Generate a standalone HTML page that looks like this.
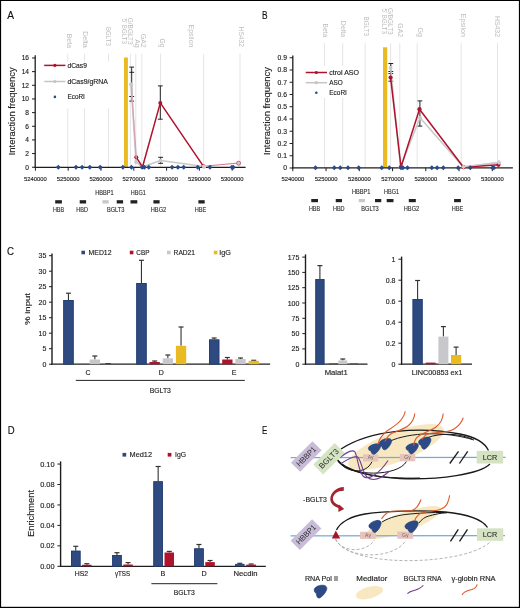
<!DOCTYPE html>
<html><head><meta charset="utf-8"><style>
html,body{margin:0;padding:0;background:#fff;overflow:hidden;}
svg{display:block;font-family:"Liberation Sans", sans-serif;will-change:transform;}
</style></head><body>
<svg width="520" height="608" viewBox="0 0 520 608">
<rect x="0" y="0" width="520" height="608" fill="#fff"/>
<text x="7.30" y="19.40" font-size="11" fill="#111" stroke="#111" stroke-width="0.14" textLength="6.8" lengthAdjust="spacingAndGlyphs">A</text>
<text transform="translate(67.00,48.00) rotate(90)" font-size="7.1" fill="#bdbdbd" text-anchor="end" textLength="14.3" lengthAdjust="spacingAndGlyphs">Beta</text>
<text transform="translate(83.40,47.80) rotate(90)" font-size="7.1" fill="#bdbdbd" text-anchor="end" textLength="16.6" lengthAdjust="spacingAndGlyphs">Delta</text>
<text transform="translate(106.00,45.80) rotate(90)" font-size="7.1" fill="#bdbdbd" text-anchor="end" textLength="18.8" lengthAdjust="spacingAndGlyphs">BGLT3</text>
<text transform="translate(128.20,44.60) rotate(90)" font-size="7.1" fill="#bdbdbd" text-anchor="end" textLength="26.9" lengthAdjust="spacingAndGlyphs">G/BGLT3</text>
<text transform="translate(121.50,43.80) rotate(90)" font-size="7.1" fill="#bdbdbd" text-anchor="end" textLength="25.3" lengthAdjust="spacingAndGlyphs">5' BGLT3</text>
<text transform="translate(140.60,47.70) rotate(90)" font-size="7.1" fill="#bdbdbd" text-anchor="end" textLength="13.9" lengthAdjust="spacingAndGlyphs">GA2</text>
<text transform="translate(135.00,47.70) rotate(90)" font-size="7.1" fill="#bdbdbd" text-anchor="end" textLength="8.5" lengthAdjust="spacingAndGlyphs">Ag</text>
<text transform="translate(160.30,47.70) rotate(90)" font-size="7.1" fill="#bdbdbd" text-anchor="end" textLength="9.2" lengthAdjust="spacingAndGlyphs">Gg</text>
<text transform="translate(188.50,47.40) rotate(90)" font-size="7.1" fill="#bdbdbd" text-anchor="end" textLength="22.8" lengthAdjust="spacingAndGlyphs">Epsilon</text>
<text transform="translate(238.70,46.90) rotate(90)" font-size="7.1" fill="#bdbdbd" text-anchor="end" textLength="20.3" lengthAdjust="spacingAndGlyphs">HS432</text>
<line x1="67.80" y1="53.80" x2="67.80" y2="167.30" stroke="#e2e2e2" stroke-width="0.9"/>
<line x1="84.50" y1="53.80" x2="84.50" y2="167.30" stroke="#e2e2e2" stroke-width="0.9"/>
<line x1="108.50" y1="53.80" x2="108.50" y2="167.30" stroke="#e2e2e2" stroke-width="0.9"/>
<line x1="130.40" y1="53.80" x2="130.40" y2="167.30" stroke="#e2e2e2" stroke-width="0.9"/>
<line x1="135.80" y1="53.80" x2="135.80" y2="167.30" stroke="#e2e2e2" stroke-width="0.9"/>
<line x1="141.90" y1="53.80" x2="141.90" y2="167.30" stroke="#e2e2e2" stroke-width="0.9"/>
<line x1="160.60" y1="53.80" x2="160.60" y2="167.30" stroke="#e2e2e2" stroke-width="0.9"/>
<line x1="203.60" y1="53.80" x2="203.60" y2="167.30" stroke="#e2e2e2" stroke-width="0.9"/>
<line x1="240.00" y1="53.80" x2="240.00" y2="167.30" stroke="#e2e2e2" stroke-width="0.9"/>
<rect x="40.00" y="61.50" width="70.00" height="47.00" fill="#fff"/>
<rect x="124.00" y="57.50" width="3.90" height="109.80" fill="#e9ba22"/>
<line x1="35.20" y1="55.30" x2="35.20" y2="167.90" stroke="#1e1e1e" stroke-width="1.3"/>
<line x1="34.60" y1="167.30" x2="245.60" y2="167.30" stroke="#1e1e1e" stroke-width="1.3"/>
<line x1="32.00" y1="167.25" x2="35.20" y2="167.25" stroke="#1e1e1e" stroke-width="1"/>
<text x="29.00" y="169.63" font-size="6.6" fill="#222" stroke="#222" stroke-width="0.14" text-anchor="end">0</text>
<line x1="32.00" y1="153.59" x2="35.20" y2="153.59" stroke="#1e1e1e" stroke-width="1"/>
<text x="29.00" y="155.97" font-size="6.6" fill="#222" stroke="#222" stroke-width="0.14" text-anchor="end">2</text>
<line x1="32.00" y1="139.93" x2="35.20" y2="139.93" stroke="#1e1e1e" stroke-width="1"/>
<text x="29.00" y="142.31" font-size="6.6" fill="#222" stroke="#222" stroke-width="0.14" text-anchor="end">4</text>
<line x1="32.00" y1="126.27" x2="35.20" y2="126.27" stroke="#1e1e1e" stroke-width="1"/>
<text x="29.00" y="128.65" font-size="6.6" fill="#222" stroke="#222" stroke-width="0.14" text-anchor="end">6</text>
<line x1="32.00" y1="112.61" x2="35.20" y2="112.61" stroke="#1e1e1e" stroke-width="1"/>
<text x="29.00" y="114.99" font-size="6.6" fill="#222" stroke="#222" stroke-width="0.14" text-anchor="end">8</text>
<line x1="32.00" y1="98.95" x2="35.20" y2="98.95" stroke="#1e1e1e" stroke-width="1"/>
<text x="29.00" y="101.33" font-size="6.6" fill="#222" stroke="#222" stroke-width="0.14" text-anchor="end">10</text>
<line x1="32.00" y1="85.29" x2="35.20" y2="85.29" stroke="#1e1e1e" stroke-width="1"/>
<text x="29.00" y="87.67" font-size="6.6" fill="#222" stroke="#222" stroke-width="0.14" text-anchor="end">12</text>
<line x1="32.00" y1="71.63" x2="35.20" y2="71.63" stroke="#1e1e1e" stroke-width="1"/>
<text x="29.00" y="74.01" font-size="6.6" fill="#222" stroke="#222" stroke-width="0.14" text-anchor="end">14</text>
<line x1="32.00" y1="57.97" x2="35.20" y2="57.97" stroke="#1e1e1e" stroke-width="1"/>
<text x="29.00" y="60.35" font-size="6.6" fill="#222" stroke="#222" stroke-width="0.14" text-anchor="end">16</text>
<line x1="35.40" y1="167.30" x2="35.40" y2="170.70" stroke="#1e1e1e" stroke-width="1"/>
<text x="35.40" y="180.82" font-size="5.9" fill="#222" stroke="#222" stroke-width="0.14" text-anchor="middle" textLength="22.8" lengthAdjust="spacingAndGlyphs">5240000</text>
<line x1="68.20" y1="167.30" x2="68.20" y2="170.70" stroke="#1e1e1e" stroke-width="1"/>
<text x="68.20" y="180.82" font-size="5.9" fill="#222" stroke="#222" stroke-width="0.14" text-anchor="middle" textLength="22.8" lengthAdjust="spacingAndGlyphs">5250000</text>
<line x1="101.00" y1="167.30" x2="101.00" y2="170.70" stroke="#1e1e1e" stroke-width="1"/>
<text x="101.00" y="180.82" font-size="5.9" fill="#222" stroke="#222" stroke-width="0.14" text-anchor="middle" textLength="22.8" lengthAdjust="spacingAndGlyphs">5260000</text>
<line x1="133.80" y1="167.30" x2="133.80" y2="170.70" stroke="#1e1e1e" stroke-width="1"/>
<text x="133.80" y="180.82" font-size="5.9" fill="#222" stroke="#222" stroke-width="0.14" text-anchor="middle" textLength="22.8" lengthAdjust="spacingAndGlyphs">5270000</text>
<line x1="166.60" y1="167.30" x2="166.60" y2="170.70" stroke="#1e1e1e" stroke-width="1"/>
<text x="166.60" y="180.82" font-size="5.9" fill="#222" stroke="#222" stroke-width="0.14" text-anchor="middle" textLength="22.8" lengthAdjust="spacingAndGlyphs">5280000</text>
<line x1="199.40" y1="167.30" x2="199.40" y2="170.70" stroke="#1e1e1e" stroke-width="1"/>
<text x="199.40" y="180.82" font-size="5.9" fill="#222" stroke="#222" stroke-width="0.14" text-anchor="middle" textLength="22.8" lengthAdjust="spacingAndGlyphs">5290000</text>
<line x1="232.20" y1="167.30" x2="232.20" y2="170.70" stroke="#1e1e1e" stroke-width="1"/>
<text x="232.20" y="180.82" font-size="5.9" fill="#222" stroke="#222" stroke-width="0.14" text-anchor="middle" textLength="22.8" lengthAdjust="spacingAndGlyphs">5300000</text>
<text transform="translate(14.50,111.30) rotate(-90)" font-size="9.2" fill="#222" stroke="#222" stroke-width="0.14" text-anchor="middle" textLength="88.0" lengthAdjust="spacingAndGlyphs">Interaction frequency</text>
<line x1="44.20" y1="65.40" x2="65.40" y2="65.40" stroke="#b0122c" stroke-width="1.5"/>
<circle cx="54.90" cy="65.40" r="1.6" fill="#b0122c"/>
<text x="67.50" y="67.85" font-size="6.8" fill="#222" stroke="#222" stroke-width="0.14" textLength="19.4" lengthAdjust="spacingAndGlyphs">dCas9</text>
<line x1="44.20" y1="81.50" x2="65.40" y2="81.50" stroke="#c4c4c8" stroke-width="1.5"/>
<circle cx="54.90" cy="81.50" r="1.6" fill="#c4c4c8"/>
<text x="67.50" y="83.95" font-size="6.8" fill="#222" stroke="#222" stroke-width="0.14" textLength="40.5" lengthAdjust="spacingAndGlyphs">dCas9/gRNA</text>
<circle cx="54.90" cy="96.90" r="1.3" fill="#2b4a88"/>
<text x="67.50" y="99.35" font-size="6.8" fill="#222" stroke="#222" stroke-width="0.14" textLength="17.4" lengthAdjust="spacingAndGlyphs">EcoRI</text>
<line x1="131.70" y1="67.10" x2="131.70" y2="101.10" stroke="#222" stroke-width="1.0"/>
<line x1="129.30" y1="67.10" x2="134.10" y2="67.10" stroke="#222" stroke-width="1.0"/>
<line x1="129.30" y1="72.30" x2="134.10" y2="72.30" stroke="#222" stroke-width="1.0"/>
<line x1="129.30" y1="96.50" x2="134.10" y2="96.50" stroke="#222" stroke-width="1.0"/>
<line x1="129.30" y1="101.10" x2="134.10" y2="101.10" stroke="#222" stroke-width="1.0"/>
<line x1="160.30" y1="85.90" x2="160.30" y2="119.20" stroke="#222" stroke-width="1.0"/>
<line x1="157.90" y1="85.90" x2="162.70" y2="85.90" stroke="#222" stroke-width="1.0"/>
<line x1="157.90" y1="119.20" x2="162.70" y2="119.20" stroke="#222" stroke-width="1.0"/>
<line x1="160.60" y1="157.30" x2="160.60" y2="163.30" stroke="#222" stroke-width="1.0"/>
<line x1="158.20" y1="157.30" x2="163.00" y2="157.30" stroke="#222" stroke-width="1.0"/>
<line x1="158.20" y1="163.30" x2="163.00" y2="163.30" stroke="#222" stroke-width="1.0"/>
<path d="M131.20,84.40L136.00,162.00L142.20,167.00L160.60,160.50L204.20,166.50" fill="none" stroke="#c8c8cc" stroke-width="1.5" stroke-linejoin="round"/>
<path d="M136.30,157.30L142.50,167.00L160.30,102.90L203.50,166.30" fill="none" stroke="#b0122c" stroke-width="1.5" stroke-linejoin="round"/>
<circle cx="131.20" cy="84.40" r="1.9" fill="#c8c8cc"/>
<circle cx="136.00" cy="162.00" r="1.9" fill="#c8c8cc"/>
<circle cx="142.20" cy="167.00" r="1.9" fill="#c8c8cc"/>
<circle cx="160.60" cy="160.50" r="1.9" fill="#c8c8cc"/>
<circle cx="204.20" cy="166.50" r="1.9" fill="#c8c8cc"/>
<circle cx="136.30" cy="157.30" r="2.0" fill="#b0122c"/>
<circle cx="142.50" cy="167.00" r="2.0" fill="#b0122c"/>
<circle cx="160.30" cy="102.90" r="2.0" fill="#b0122c"/>
<circle cx="203.50" cy="166.30" r="2.0" fill="#b0122c"/>
<path d="M131.2,84.4L136.3,158.5" stroke="#d2a7b3" stroke-width="1.4" fill="none"/>
<circle cx="131.2" cy="84.4" r="1.9" fill="#c8c8cc"/>
<path d="M204,166.2L238.6,163.0" stroke="#d27585" stroke-width="1.1" fill="none"/>
<circle cx="204" cy="166.6" r="2.1" fill="#cfcfd3"/>
<circle cx="238.6" cy="163.2" r="2.0" fill="#d0d0d4" stroke="#c0435a" stroke-width="0.8"/>
<path d="M58.30,164.85L60.75,167.30L58.30,169.75L55.85,167.30Z" fill="#2b4a88"/>
<path d="M76.00,164.85L78.45,167.30L76.00,169.75L73.55,167.30Z" fill="#2b4a88"/>
<path d="M82.10,164.85L84.55,167.30L82.10,169.75L79.65,167.30Z" fill="#2b4a88"/>
<path d="M89.80,164.85L92.25,167.30L89.80,169.75L87.35,167.30Z" fill="#2b4a88"/>
<path d="M100.20,164.85L102.65,167.30L100.20,169.75L97.75,167.30Z" fill="#2b4a88"/>
<path d="M122.90,164.85L125.35,167.30L122.90,169.75L120.45,167.30Z" fill="#2b4a88"/>
<path d="M131.50,164.85L133.95,167.30L131.50,169.75L129.05,167.30Z" fill="#2b4a88"/>
<path d="M142.10,164.85L144.55,167.30L142.10,169.75L139.65,167.30Z" fill="#2b4a88"/>
<path d="M144.40,164.85L146.85,167.30L144.40,169.75L141.95,167.30Z" fill="#2b4a88"/>
<path d="M148.80,164.85L151.25,167.30L148.80,169.75L146.35,167.30Z" fill="#2b4a88"/>
<path d="M172.10,164.85L174.55,167.30L172.10,169.75L169.65,167.30Z" fill="#2b4a88"/>
<path d="M177.90,164.85L180.35,167.30L177.90,169.75L175.45,167.30Z" fill="#2b4a88"/>
<path d="M183.70,164.85L186.15,167.30L183.70,169.75L181.25,167.30Z" fill="#2b4a88"/>
<path d="M197.70,164.85L200.15,167.30L197.70,169.75L195.25,167.30Z" fill="#2b4a88"/>
<path d="M210.00,164.85L212.45,167.30L210.00,169.75L207.55,167.30Z" fill="#2b4a88"/>
<path d="M231.90,164.85L234.35,167.30L231.90,169.75L229.45,167.30Z" fill="#2b4a88"/>
<path d="M233.30,164.85L235.75,167.30L233.30,169.75L230.85,167.30Z" fill="#2b4a88"/>
<rect x="55.20" y="200.20" width="6.70" height="3.30" fill="#222"/>
<rect x="79.70" y="200.20" width="6.40" height="3.30" fill="#222"/>
<rect x="102.40" y="200.20" width="6.30" height="3.30" fill="#c8c8c8"/>
<rect x="116.70" y="200.20" width="6.40" height="3.30" fill="#222"/>
<rect x="130.50" y="200.20" width="6.80" height="3.30" fill="#222"/>
<rect x="153.40" y="200.20" width="6.20" height="3.30" fill="#222"/>
<rect x="198.40" y="200.20" width="6.30" height="3.30" fill="#222"/>
<text x="58.50" y="212.17" font-size="6.3" fill="#333" stroke="#333" stroke-width="0.14" text-anchor="middle" textLength="11.2" lengthAdjust="spacingAndGlyphs">HBB</text>
<text x="82.10" y="212.17" font-size="6.3" fill="#333" stroke="#333" stroke-width="0.14" text-anchor="middle" textLength="11.7" lengthAdjust="spacingAndGlyphs">HBD</text>
<text x="115.70" y="212.17" font-size="6.3" fill="#333" stroke="#333" stroke-width="0.14" text-anchor="middle" textLength="17.5" lengthAdjust="spacingAndGlyphs">BGLT3</text>
<text x="158.50" y="212.17" font-size="6.3" fill="#333" stroke="#333" stroke-width="0.14" text-anchor="middle" textLength="15.5" lengthAdjust="spacingAndGlyphs">HBG2</text>
<text x="200.50" y="212.17" font-size="6.3" fill="#333" stroke="#333" stroke-width="0.14" text-anchor="middle" textLength="11.5" lengthAdjust="spacingAndGlyphs">HBE</text>
<text x="104.50" y="194.87" font-size="6.3" fill="#333" stroke="#333" stroke-width="0.14" text-anchor="middle" textLength="18.5" lengthAdjust="spacingAndGlyphs">HBBP1</text>
<text x="138.30" y="194.87" font-size="6.3" fill="#333" stroke="#333" stroke-width="0.14" text-anchor="middle" textLength="15.0" lengthAdjust="spacingAndGlyphs">HBG1</text>
<text x="262.00" y="19.30" font-size="11" fill="#111" stroke="#111" stroke-width="0.14" textLength="5.6" lengthAdjust="spacingAndGlyphs">B</text>
<text transform="translate(322.60,37.20) rotate(90)" font-size="7.1" fill="#bdbdbd" text-anchor="end" textLength="13.8" lengthAdjust="spacingAndGlyphs">Beta</text>
<text transform="translate(340.90,37.20) rotate(90)" font-size="7.1" fill="#bdbdbd" text-anchor="end" textLength="16.4" lengthAdjust="spacingAndGlyphs">Delta</text>
<text transform="translate(364.10,36.00) rotate(90)" font-size="7.1" fill="#bdbdbd" text-anchor="end" textLength="19.6" lengthAdjust="spacingAndGlyphs">BGLT3</text>
<text transform="translate(388.20,34.60) rotate(90)" font-size="7.1" fill="#bdbdbd" text-anchor="end" textLength="26.5" lengthAdjust="spacingAndGlyphs">G/BGLT3</text>
<text transform="translate(381.90,33.80) rotate(90)" font-size="7.1" fill="#bdbdbd" text-anchor="end" textLength="25.3" lengthAdjust="spacingAndGlyphs">5' BGLT3</text>
<text transform="translate(397.90,37.00) rotate(90)" font-size="7.1" fill="#bdbdbd" text-anchor="end" textLength="13.7" lengthAdjust="spacingAndGlyphs">GA2</text>
<text transform="translate(417.60,37.00) rotate(90)" font-size="7.1" fill="#bdbdbd" text-anchor="end" textLength="9.5" lengthAdjust="spacingAndGlyphs">Gg</text>
<text transform="translate(460.80,37.00) rotate(90)" font-size="7.1" fill="#bdbdbd" text-anchor="end" textLength="23.3" lengthAdjust="spacingAndGlyphs">Epsilon</text>
<text transform="translate(495.00,37.00) rotate(90)" font-size="7.1" fill="#bdbdbd" text-anchor="end" textLength="21.1" lengthAdjust="spacingAndGlyphs">HS432</text>
<line x1="324.50" y1="43.30" x2="324.50" y2="167.80" stroke="#e2e2e2" stroke-width="0.9"/>
<line x1="342.70" y1="43.30" x2="342.70" y2="167.80" stroke="#e2e2e2" stroke-width="0.9"/>
<line x1="365.20" y1="43.30" x2="365.20" y2="167.80" stroke="#e2e2e2" stroke-width="0.9"/>
<line x1="390.60" y1="43.30" x2="390.60" y2="167.80" stroke="#e2e2e2" stroke-width="0.9"/>
<line x1="399.80" y1="43.30" x2="399.80" y2="167.80" stroke="#e2e2e2" stroke-width="0.9"/>
<line x1="417.20" y1="43.30" x2="417.20" y2="167.80" stroke="#e2e2e2" stroke-width="0.9"/>
<line x1="461.20" y1="43.30" x2="461.20" y2="167.80" stroke="#e2e2e2" stroke-width="0.9"/>
<line x1="497.50" y1="43.30" x2="497.50" y2="167.80" stroke="#e2e2e2" stroke-width="0.9"/>
<rect x="300.00" y="66.00" width="62.00" height="32.00" fill="#fff"/>
<rect x="383.00" y="47.30" width="4.20" height="120.50" fill="#e9ba22"/>
<line x1="292.80" y1="55.60" x2="292.80" y2="168.40" stroke="#1e1e1e" stroke-width="1.3"/>
<line x1="292.20" y1="167.80" x2="512.90" y2="167.80" stroke="#1e1e1e" stroke-width="1.3"/>
<line x1="289.60" y1="168.00" x2="292.80" y2="168.00" stroke="#1e1e1e" stroke-width="1"/>
<text x="287.00" y="170.45" font-size="6.8" fill="#222" stroke="#222" stroke-width="0.14" text-anchor="end">0</text>
<line x1="289.60" y1="155.75" x2="292.80" y2="155.75" stroke="#1e1e1e" stroke-width="1"/>
<text x="287.00" y="158.20" font-size="6.8" fill="#222" stroke="#222" stroke-width="0.14" text-anchor="end">0.1</text>
<line x1="289.60" y1="143.50" x2="292.80" y2="143.50" stroke="#1e1e1e" stroke-width="1"/>
<text x="287.00" y="145.95" font-size="6.8" fill="#222" stroke="#222" stroke-width="0.14" text-anchor="end">0.2</text>
<line x1="289.60" y1="131.25" x2="292.80" y2="131.25" stroke="#1e1e1e" stroke-width="1"/>
<text x="287.00" y="133.70" font-size="6.8" fill="#222" stroke="#222" stroke-width="0.14" text-anchor="end">0.3</text>
<line x1="289.60" y1="119.00" x2="292.80" y2="119.00" stroke="#1e1e1e" stroke-width="1"/>
<text x="287.00" y="121.45" font-size="6.8" fill="#222" stroke="#222" stroke-width="0.14" text-anchor="end">0.4</text>
<line x1="289.60" y1="106.75" x2="292.80" y2="106.75" stroke="#1e1e1e" stroke-width="1"/>
<text x="287.00" y="109.20" font-size="6.8" fill="#222" stroke="#222" stroke-width="0.14" text-anchor="end">0.5</text>
<line x1="289.60" y1="94.50" x2="292.80" y2="94.50" stroke="#1e1e1e" stroke-width="1"/>
<text x="287.00" y="96.95" font-size="6.8" fill="#222" stroke="#222" stroke-width="0.14" text-anchor="end">0.6</text>
<line x1="289.60" y1="82.25" x2="292.80" y2="82.25" stroke="#1e1e1e" stroke-width="1"/>
<text x="287.00" y="84.70" font-size="6.8" fill="#222" stroke="#222" stroke-width="0.14" text-anchor="end">0.7</text>
<line x1="289.60" y1="70.00" x2="292.80" y2="70.00" stroke="#1e1e1e" stroke-width="1"/>
<text x="287.00" y="72.45" font-size="6.8" fill="#222" stroke="#222" stroke-width="0.14" text-anchor="end">0.8</text>
<line x1="289.60" y1="57.75" x2="292.80" y2="57.75" stroke="#1e1e1e" stroke-width="1"/>
<text x="287.00" y="60.20" font-size="6.8" fill="#222" stroke="#222" stroke-width="0.14" text-anchor="end">0.9</text>
<line x1="292.80" y1="167.80" x2="292.80" y2="171.20" stroke="#1e1e1e" stroke-width="1"/>
<text x="292.80" y="180.87" font-size="5.9" fill="#222" stroke="#222" stroke-width="0.14" text-anchor="middle" textLength="22.8" lengthAdjust="spacingAndGlyphs">5240000</text>
<line x1="326.05" y1="167.80" x2="326.05" y2="171.20" stroke="#1e1e1e" stroke-width="1"/>
<text x="326.05" y="180.87" font-size="5.9" fill="#222" stroke="#222" stroke-width="0.14" text-anchor="middle" textLength="22.8" lengthAdjust="spacingAndGlyphs">5250000</text>
<line x1="359.30" y1="167.80" x2="359.30" y2="171.20" stroke="#1e1e1e" stroke-width="1"/>
<text x="359.30" y="180.87" font-size="5.9" fill="#222" stroke="#222" stroke-width="0.14" text-anchor="middle" textLength="22.8" lengthAdjust="spacingAndGlyphs">5260000</text>
<line x1="392.55" y1="167.80" x2="392.55" y2="171.20" stroke="#1e1e1e" stroke-width="1"/>
<text x="392.55" y="180.87" font-size="5.9" fill="#222" stroke="#222" stroke-width="0.14" text-anchor="middle" textLength="22.8" lengthAdjust="spacingAndGlyphs">5270000</text>
<line x1="425.80" y1="167.80" x2="425.80" y2="171.20" stroke="#1e1e1e" stroke-width="1"/>
<text x="425.80" y="180.87" font-size="5.9" fill="#222" stroke="#222" stroke-width="0.14" text-anchor="middle" textLength="22.8" lengthAdjust="spacingAndGlyphs">5280000</text>
<line x1="459.05" y1="167.80" x2="459.05" y2="171.20" stroke="#1e1e1e" stroke-width="1"/>
<text x="459.05" y="180.87" font-size="5.9" fill="#222" stroke="#222" stroke-width="0.14" text-anchor="middle" textLength="22.8" lengthAdjust="spacingAndGlyphs">5290000</text>
<line x1="492.30" y1="167.80" x2="492.30" y2="171.20" stroke="#1e1e1e" stroke-width="1"/>
<text x="492.30" y="180.87" font-size="5.9" fill="#222" stroke="#222" stroke-width="0.14" text-anchor="middle" textLength="22.8" lengthAdjust="spacingAndGlyphs">5300000</text>
<text transform="translate(270.00,111.00) rotate(-90)" font-size="9.2" fill="#222" stroke="#222" stroke-width="0.14" text-anchor="middle" textLength="88.0" lengthAdjust="spacingAndGlyphs">Interaction frequency</text>
<line x1="305.70" y1="72.50" x2="327.00" y2="72.50" stroke="#b0122c" stroke-width="1.5"/>
<circle cx="316.30" cy="72.50" r="1.6" fill="#b0122c"/>
<text x="329.30" y="75.02" font-size="7.0" fill="#222" stroke="#222" stroke-width="0.14" textLength="29.7" lengthAdjust="spacingAndGlyphs">ctrol ASO</text>
<line x1="305.70" y1="82.70" x2="327.00" y2="82.70" stroke="#c4c4c8" stroke-width="1.5"/>
<circle cx="316.30" cy="82.70" r="1.6" fill="#c4c4c8"/>
<text x="329.30" y="85.22" font-size="7.0" fill="#222" stroke="#222" stroke-width="0.14" textLength="13.5" lengthAdjust="spacingAndGlyphs">ASO</text>
<circle cx="316.30" cy="92.80" r="1.3" fill="#2b4a88"/>
<text x="329.30" y="95.32" font-size="7.0" fill="#222" stroke="#222" stroke-width="0.14" textLength="17.6" lengthAdjust="spacingAndGlyphs">EcoRI</text>
<line x1="390.80" y1="63.50" x2="390.80" y2="81.20" stroke="#222" stroke-width="1.0"/>
<line x1="388.40" y1="63.50" x2="393.20" y2="63.50" stroke="#222" stroke-width="1.0"/>
<line x1="388.40" y1="71.50" x2="393.20" y2="71.50" stroke="#222" stroke-width="1.0"/>
<line x1="388.40" y1="73.60" x2="393.20" y2="73.60" stroke="#222" stroke-width="1.0"/>
<line x1="388.40" y1="81.20" x2="393.20" y2="81.20" stroke="#222" stroke-width="1.0"/>
<line x1="419.90" y1="100.90" x2="419.90" y2="126.10" stroke="#222" stroke-width="1.0"/>
<line x1="417.50" y1="100.90" x2="422.30" y2="100.90" stroke="#222" stroke-width="1.0"/>
<line x1="417.50" y1="126.10" x2="422.30" y2="126.10" stroke="#222" stroke-width="1.0"/>
<path d="M390.60,67.90L400.50,167.00L420.00,117.80L463.50,167.20L498.80,162.60" fill="none" stroke="#c8c8cc" stroke-width="1.5" stroke-linejoin="round"/>
<path d="M390.60,77.60L401.00,167.00L419.50,109.20L463.50,167.20L498.50,164.80" fill="none" stroke="#b0122c" stroke-width="1.5" stroke-linejoin="round"/>
<circle cx="390.60" cy="67.90" r="2.0" fill="#c8c8cc"/>
<circle cx="400.50" cy="167.00" r="2.0" fill="#c8c8cc"/>
<circle cx="420.00" cy="117.80" r="2.0" fill="#c8c8cc"/>
<circle cx="463.50" cy="167.20" r="2.0" fill="#c8c8cc"/>
<circle cx="498.80" cy="162.60" r="2.0" fill="#c8c8cc"/>
<circle cx="390.60" cy="77.60" r="2.1" fill="#b0122c"/>
<circle cx="401.00" cy="167.00" r="2.1" fill="#b0122c"/>
<circle cx="419.50" cy="109.20" r="2.1" fill="#b0122c"/>
<circle cx="463.50" cy="167.20" r="2.1" fill="#b0122c"/>
<circle cx="498.50" cy="164.80" r="2.1" fill="#b0122c"/>
<path d="M463.5,166.6L498.8,162.4" stroke="#c8c8cc" stroke-width="1.3" fill="none"/>
<path d="M463.5,164.4L465.8,166.8L463.5,169.2L461.2,166.8Z" fill="#cfcfd3"/>
<path d="M499,160.1L501.4,162.5L499,164.9L496.6,162.5Z" fill="#cfcfd3"/>
<path d="M315.50,165.35L317.95,167.80L315.50,170.25L313.05,167.80Z" fill="#2b4a88"/>
<path d="M334.25,165.35L336.70,167.80L334.25,170.25L331.80,167.80Z" fill="#2b4a88"/>
<path d="M340.25,165.35L342.70,167.80L340.25,170.25L337.80,167.80Z" fill="#2b4a88"/>
<path d="M348.00,165.35L350.45,167.80L348.00,170.25L345.55,167.80Z" fill="#2b4a88"/>
<path d="M358.75,165.35L361.20,167.80L358.75,170.25L356.30,167.80Z" fill="#2b4a88"/>
<path d="M381.75,165.35L384.20,167.80L381.75,170.25L379.30,167.80Z" fill="#2b4a88"/>
<path d="M389.25,165.35L391.70,167.80L389.25,170.25L386.80,167.80Z" fill="#2b4a88"/>
<path d="M401.00,165.35L403.45,167.80L401.00,170.25L398.55,167.80Z" fill="#2b4a88"/>
<path d="M402.90,165.35L405.35,167.80L402.90,170.25L400.45,167.80Z" fill="#2b4a88"/>
<path d="M407.50,165.35L409.95,167.80L407.50,170.25L405.05,167.80Z" fill="#2b4a88"/>
<path d="M431.80,165.35L434.25,167.80L431.80,170.25L429.35,167.80Z" fill="#2b4a88"/>
<path d="M437.10,165.35L439.55,167.80L437.10,170.25L434.65,167.80Z" fill="#2b4a88"/>
<path d="M443.30,165.35L445.75,167.80L443.30,170.25L440.85,167.80Z" fill="#2b4a88"/>
<path d="M458.20,165.35L460.65,167.80L458.20,170.25L455.75,167.80Z" fill="#2b4a88"/>
<path d="M470.30,165.35L472.75,167.80L470.30,170.25L467.85,167.80Z" fill="#2b4a88"/>
<path d="M492.50,165.35L494.95,167.80L492.50,170.25L490.05,167.80Z" fill="#2b4a88"/>
<path d="M493.90,165.35L496.35,167.80L493.90,170.25L491.45,167.80Z" fill="#2b4a88"/>
<rect x="311.25" y="199.00" width="6.75" height="3.20" fill="#222"/>
<rect x="335.75" y="199.00" width="6.25" height="3.20" fill="#222"/>
<rect x="358.75" y="199.00" width="6.25" height="3.20" fill="#c8c8c8"/>
<rect x="375.00" y="199.00" width="6.25" height="3.20" fill="#222"/>
<rect x="386.70" y="199.00" width="6.80" height="3.20" fill="#222"/>
<rect x="408.80" y="199.00" width="7.00" height="3.20" fill="#222"/>
<rect x="454.10" y="199.00" width="6.80" height="3.20" fill="#222"/>
<text x="314.50" y="211.07" font-size="6.3" fill="#333" stroke="#333" stroke-width="0.14" text-anchor="middle" textLength="11.2" lengthAdjust="spacingAndGlyphs">HBB</text>
<text x="338.75" y="211.07" font-size="6.3" fill="#333" stroke="#333" stroke-width="0.14" text-anchor="middle" textLength="11.7" lengthAdjust="spacingAndGlyphs">HBD</text>
<text x="370.00" y="211.07" font-size="6.3" fill="#333" stroke="#333" stroke-width="0.14" text-anchor="middle" textLength="17.5" lengthAdjust="spacingAndGlyphs">BGLT3</text>
<text x="411.50" y="211.07" font-size="6.3" fill="#333" stroke="#333" stroke-width="0.14" text-anchor="middle" textLength="15.5" lengthAdjust="spacingAndGlyphs">HBG2</text>
<text x="457.40" y="211.07" font-size="6.3" fill="#333" stroke="#333" stroke-width="0.14" text-anchor="middle" textLength="11.5" lengthAdjust="spacingAndGlyphs">HBE</text>
<text x="361.25" y="194.37" font-size="6.3" fill="#333" stroke="#333" stroke-width="0.14" text-anchor="middle" textLength="18.5" lengthAdjust="spacingAndGlyphs">HBBP1</text>
<text x="391.60" y="194.37" font-size="6.3" fill="#333" stroke="#333" stroke-width="0.14" text-anchor="middle" textLength="15.0" lengthAdjust="spacingAndGlyphs">HBG1</text>
<text x="7.00" y="254.70" font-size="11" fill="#111" stroke="#111" stroke-width="0.14" textLength="7.0" lengthAdjust="spacingAndGlyphs">C</text>
<rect x="81.40" y="250.70" width="3.60" height="3.60" fill="#2e4a80"/>
<text x="88.60" y="255.02" font-size="7.0" fill="#222" stroke="#222" stroke-width="0.14" textLength="22.9" lengthAdjust="spacingAndGlyphs">MED12</text>
<rect x="129.80" y="250.70" width="3.60" height="3.60" fill="#b0122c"/>
<text x="136.30" y="255.02" font-size="7.0" fill="#222" stroke="#222" stroke-width="0.14" textLength="13.1" lengthAdjust="spacingAndGlyphs">CBP</text>
<rect x="167.00" y="250.70" width="3.60" height="3.60" fill="#c8c7cc"/>
<text x="173.60" y="255.02" font-size="7.0" fill="#222" stroke="#222" stroke-width="0.14" textLength="21.4" lengthAdjust="spacingAndGlyphs">RAD21</text>
<rect x="213.80" y="250.70" width="3.60" height="3.60" fill="#e9ba22"/>
<text x="219.30" y="255.02" font-size="7.0" fill="#222" stroke="#222" stroke-width="0.14" textLength="11.7" lengthAdjust="spacingAndGlyphs">IgG</text>
<line x1="52.00" y1="253.60" x2="52.00" y2="364.80" stroke="#1e1e1e" stroke-width="1.4"/>
<line x1="51.40" y1="364.20" x2="270.10" y2="364.20" stroke="#1e1e1e" stroke-width="1.3"/>
<line x1="49.00" y1="364.20" x2="52.00" y2="364.20" stroke="#1e1e1e" stroke-width="1"/>
<text x="46.40" y="366.72" font-size="7.0" fill="#222" stroke="#222" stroke-width="0.14" text-anchor="end">0</text>
<line x1="49.00" y1="348.70" x2="52.00" y2="348.70" stroke="#1e1e1e" stroke-width="1"/>
<text x="46.40" y="351.22" font-size="7.0" fill="#222" stroke="#222" stroke-width="0.14" text-anchor="end">5</text>
<line x1="49.00" y1="333.20" x2="52.00" y2="333.20" stroke="#1e1e1e" stroke-width="1"/>
<text x="46.40" y="335.72" font-size="7.0" fill="#222" stroke="#222" stroke-width="0.14" text-anchor="end">10</text>
<line x1="49.00" y1="317.70" x2="52.00" y2="317.70" stroke="#1e1e1e" stroke-width="1"/>
<text x="46.40" y="320.22" font-size="7.0" fill="#222" stroke="#222" stroke-width="0.14" text-anchor="end">15</text>
<line x1="49.00" y1="302.20" x2="52.00" y2="302.20" stroke="#1e1e1e" stroke-width="1"/>
<text x="46.40" y="304.72" font-size="7.0" fill="#222" stroke="#222" stroke-width="0.14" text-anchor="end">20</text>
<line x1="49.00" y1="286.70" x2="52.00" y2="286.70" stroke="#1e1e1e" stroke-width="1"/>
<text x="46.40" y="289.22" font-size="7.0" fill="#222" stroke="#222" stroke-width="0.14" text-anchor="end">25</text>
<line x1="49.00" y1="271.20" x2="52.00" y2="271.20" stroke="#1e1e1e" stroke-width="1"/>
<text x="46.40" y="273.72" font-size="7.0" fill="#222" stroke="#222" stroke-width="0.14" text-anchor="end">30</text>
<line x1="49.00" y1="255.70" x2="52.00" y2="255.70" stroke="#1e1e1e" stroke-width="1"/>
<text x="46.40" y="258.22" font-size="7.0" fill="#222" stroke="#222" stroke-width="0.14" text-anchor="end">35</text>
<text transform="translate(30.20,309.00) rotate(-90)" font-size="7.5" fill="#222" stroke="#222" stroke-width="0.14" text-anchor="middle" textLength="32.0" lengthAdjust="spacingAndGlyphs">% input</text>
<line x1="68.45" y1="293.20" x2="68.45" y2="300.00" stroke="#333" stroke-width="1.1"/>
<line x1="65.95" y1="293.20" x2="70.95" y2="293.20" stroke="#333" stroke-width="1.2"/>
<rect x="63.30" y="300.00" width="10.30" height="64.20" fill="#2e4a80"/>
<rect x="63.70" y="300.40" width="9.50" height="63.80" fill="none" stroke="#223d70" stroke-width="0.8"/>
<line x1="94.85" y1="356.00" x2="94.85" y2="359.50" stroke="#333" stroke-width="1.1"/>
<line x1="92.35" y1="356.00" x2="97.35" y2="356.00" stroke="#333" stroke-width="1.2"/>
<rect x="89.70" y="359.50" width="10.30" height="4.70" fill="#c8c7cc"/>
<line x1="105.50" y1="363.50" x2="110.80" y2="363.50" stroke="#333" stroke-width="0.9"/>
<line x1="141.45" y1="260.30" x2="141.45" y2="283.00" stroke="#333" stroke-width="1.1"/>
<line x1="138.95" y1="260.30" x2="143.95" y2="260.30" stroke="#333" stroke-width="1.2"/>
<rect x="136.30" y="283.00" width="10.30" height="81.20" fill="#2e4a80"/>
<rect x="136.70" y="283.40" width="9.50" height="80.80" fill="none" stroke="#223d70" stroke-width="0.8"/>
<line x1="154.65" y1="361.00" x2="154.65" y2="362.00" stroke="#333" stroke-width="1.1"/>
<line x1="152.15" y1="361.00" x2="157.15" y2="361.00" stroke="#333" stroke-width="1.2"/>
<rect x="149.50" y="362.00" width="10.30" height="2.20" fill="#b0122c"/>
<line x1="167.85" y1="355.00" x2="167.85" y2="358.30" stroke="#333" stroke-width="1.1"/>
<line x1="165.35" y1="355.00" x2="170.35" y2="355.00" stroke="#333" stroke-width="1.2"/>
<rect x="162.70" y="358.30" width="10.30" height="5.90" fill="#c8c7cc"/>
<line x1="181.05" y1="327.00" x2="181.05" y2="345.80" stroke="#333" stroke-width="1.1"/>
<line x1="178.55" y1="327.00" x2="183.55" y2="327.00" stroke="#333" stroke-width="1.2"/>
<rect x="175.90" y="345.80" width="10.30" height="18.40" fill="#e9ba22"/>
<line x1="214.15" y1="338.00" x2="214.15" y2="339.50" stroke="#333" stroke-width="1.1"/>
<line x1="211.65" y1="338.00" x2="216.65" y2="338.00" stroke="#333" stroke-width="1.2"/>
<rect x="209.00" y="339.50" width="10.30" height="24.70" fill="#2e4a80"/>
<rect x="209.40" y="339.90" width="9.50" height="24.30" fill="none" stroke="#223d70" stroke-width="0.8"/>
<line x1="227.35" y1="357.50" x2="227.35" y2="359.50" stroke="#333" stroke-width="1.1"/>
<line x1="224.85" y1="357.50" x2="229.85" y2="357.50" stroke="#333" stroke-width="1.2"/>
<rect x="222.20" y="359.50" width="10.30" height="4.70" fill="#b0122c"/>
<line x1="240.55" y1="358.00" x2="240.55" y2="359.00" stroke="#333" stroke-width="1.1"/>
<line x1="238.05" y1="358.00" x2="243.05" y2="358.00" stroke="#333" stroke-width="1.2"/>
<rect x="235.40" y="359.00" width="10.30" height="5.20" fill="#c8c7cc"/>
<line x1="253.75" y1="360.30" x2="253.75" y2="360.80" stroke="#333" stroke-width="1.1"/>
<line x1="251.25" y1="360.30" x2="256.25" y2="360.30" stroke="#333" stroke-width="1.2"/>
<rect x="248.60" y="360.80" width="10.30" height="3.40" fill="#e9ba22"/>
<text x="88.00" y="374.82" font-size="7.0" fill="#222" stroke="#222" stroke-width="0.14" text-anchor="middle">C</text>
<text x="161.20" y="374.82" font-size="7.0" fill="#222" stroke="#222" stroke-width="0.14" text-anchor="middle">D</text>
<text x="234.00" y="374.82" font-size="7.0" fill="#222" stroke="#222" stroke-width="0.14" text-anchor="middle">E</text>
<line x1="75.80" y1="380.40" x2="244.80" y2="380.40" stroke="#222" stroke-width="1"/>
<text x="160.30" y="392.72" font-size="7.0" fill="#222" stroke="#222" stroke-width="0.14" text-anchor="middle" textLength="21.1" lengthAdjust="spacingAndGlyphs">BGLT3</text>
<line x1="305.50" y1="254.40" x2="305.50" y2="364.80" stroke="#1e1e1e" stroke-width="1.4"/>
<line x1="304.90" y1="364.20" x2="367.50" y2="364.20" stroke="#1e1e1e" stroke-width="1.3"/>
<line x1="302.30" y1="364.20" x2="305.50" y2="364.20" stroke="#1e1e1e" stroke-width="1"/>
<text x="299.40" y="366.72" font-size="7.0" fill="#222" stroke="#222" stroke-width="0.14" text-anchor="end">0</text>
<line x1="302.30" y1="348.90" x2="305.50" y2="348.90" stroke="#1e1e1e" stroke-width="1"/>
<text x="299.40" y="351.42" font-size="7.0" fill="#222" stroke="#222" stroke-width="0.14" text-anchor="end">25</text>
<line x1="302.30" y1="333.60" x2="305.50" y2="333.60" stroke="#1e1e1e" stroke-width="1"/>
<text x="299.40" y="336.12" font-size="7.0" fill="#222" stroke="#222" stroke-width="0.14" text-anchor="end">50</text>
<line x1="302.30" y1="318.30" x2="305.50" y2="318.30" stroke="#1e1e1e" stroke-width="1"/>
<text x="299.40" y="320.82" font-size="7.0" fill="#222" stroke="#222" stroke-width="0.14" text-anchor="end">75</text>
<line x1="302.30" y1="303.00" x2="305.50" y2="303.00" stroke="#1e1e1e" stroke-width="1"/>
<text x="299.40" y="305.52" font-size="7.0" fill="#222" stroke="#222" stroke-width="0.14" text-anchor="end">100</text>
<line x1="302.30" y1="287.70" x2="305.50" y2="287.70" stroke="#1e1e1e" stroke-width="1"/>
<text x="299.40" y="290.22" font-size="7.0" fill="#222" stroke="#222" stroke-width="0.14" text-anchor="end">125</text>
<line x1="302.30" y1="272.40" x2="305.50" y2="272.40" stroke="#1e1e1e" stroke-width="1"/>
<text x="299.40" y="274.92" font-size="7.0" fill="#222" stroke="#222" stroke-width="0.14" text-anchor="end">150</text>
<line x1="302.30" y1="257.10" x2="305.50" y2="257.10" stroke="#1e1e1e" stroke-width="1"/>
<text x="299.40" y="259.62" font-size="7.0" fill="#222" stroke="#222" stroke-width="0.14" text-anchor="end">175</text>
<line x1="319.90" y1="265.60" x2="319.90" y2="279.10" stroke="#333" stroke-width="1.1"/>
<line x1="317.40" y1="265.60" x2="322.40" y2="265.60" stroke="#333" stroke-width="1.2"/>
<rect x="315.40" y="279.10" width="9.00" height="85.10" fill="#2e4a80"/>
<rect x="315.80" y="279.50" width="8.20" height="84.70" fill="none" stroke="#223d70" stroke-width="0.8"/>
<line x1="328.80" y1="363.60" x2="338.00" y2="363.60" stroke="#555" stroke-width="0.8"/>
<line x1="342.80" y1="359.00" x2="342.80" y2="360.40" stroke="#333" stroke-width="1.1"/>
<line x1="340.30" y1="359.00" x2="345.30" y2="359.00" stroke="#333" stroke-width="1.2"/>
<rect x="338.40" y="360.40" width="8.80" height="3.80" fill="#c8c7cc"/>
<line x1="350.00" y1="363.60" x2="358.00" y2="363.60" stroke="#555" stroke-width="0.8"/>
<text x="336.20" y="374.79" font-size="7.2" fill="#222" stroke="#222" stroke-width="0.14" text-anchor="middle" textLength="23.1" lengthAdjust="spacingAndGlyphs">Malat1</text>
<line x1="401.60" y1="256.60" x2="401.60" y2="364.80" stroke="#1e1e1e" stroke-width="1.4"/>
<line x1="401.00" y1="364.20" x2="472.00" y2="364.20" stroke="#1e1e1e" stroke-width="1.3"/>
<line x1="398.40" y1="364.20" x2="401.60" y2="364.20" stroke="#1e1e1e" stroke-width="1"/>
<text x="395.50" y="366.72" font-size="7.0" fill="#222" stroke="#222" stroke-width="0.14" text-anchor="end">0</text>
<line x1="398.40" y1="343.20" x2="401.60" y2="343.20" stroke="#1e1e1e" stroke-width="1"/>
<text x="395.50" y="345.72" font-size="7.0" fill="#222" stroke="#222" stroke-width="0.14" text-anchor="end">0.2</text>
<line x1="398.40" y1="322.20" x2="401.60" y2="322.20" stroke="#1e1e1e" stroke-width="1"/>
<text x="395.50" y="324.72" font-size="7.0" fill="#222" stroke="#222" stroke-width="0.14" text-anchor="end">0.4</text>
<line x1="398.40" y1="301.20" x2="401.60" y2="301.20" stroke="#1e1e1e" stroke-width="1"/>
<text x="395.50" y="303.72" font-size="7.0" fill="#222" stroke="#222" stroke-width="0.14" text-anchor="end">0.6</text>
<line x1="398.40" y1="280.20" x2="401.60" y2="280.20" stroke="#1e1e1e" stroke-width="1"/>
<text x="395.50" y="282.72" font-size="7.0" fill="#222" stroke="#222" stroke-width="0.14" text-anchor="end">0.8</text>
<line x1="398.40" y1="259.20" x2="401.60" y2="259.20" stroke="#1e1e1e" stroke-width="1"/>
<text x="395.50" y="261.72" font-size="7.0" fill="#222" stroke="#222" stroke-width="0.14" text-anchor="end">1</text>
<line x1="417.60" y1="280.50" x2="417.60" y2="299.00" stroke="#333" stroke-width="1.1"/>
<line x1="415.10" y1="280.50" x2="420.10" y2="280.50" stroke="#333" stroke-width="1.2"/>
<rect x="412.60" y="299.00" width="10.00" height="65.20" fill="#2e4a80"/>
<rect x="413.00" y="299.40" width="9.20" height="64.80" fill="none" stroke="#223d70" stroke-width="0.8"/>
<rect x="425.80" y="362.60" width="9.80" height="1.60" fill="#b0122c"/>
<line x1="443.40" y1="326.60" x2="443.40" y2="336.60" stroke="#333" stroke-width="1.1"/>
<line x1="440.90" y1="326.60" x2="445.90" y2="326.60" stroke="#333" stroke-width="1.2"/>
<rect x="438.40" y="336.60" width="10.00" height="27.60" fill="#c8c7cc"/>
<line x1="456.10" y1="347.10" x2="456.10" y2="355.00" stroke="#333" stroke-width="1.1"/>
<line x1="453.60" y1="347.10" x2="458.60" y2="347.10" stroke="#333" stroke-width="1.2"/>
<rect x="451.00" y="355.00" width="10.20" height="9.20" fill="#e9ba22"/>
<text x="437.00" y="374.79" font-size="7.2" fill="#222" stroke="#222" stroke-width="0.14" text-anchor="middle" textLength="50.5" lengthAdjust="spacingAndGlyphs">LINC00853 ex1</text>
<text x="7.80" y="434.20" font-size="11" fill="#111" stroke="#111" stroke-width="0.14" textLength="6.9" lengthAdjust="spacingAndGlyphs">D</text>
<rect x="122.50" y="452.90" width="3.70" height="3.70" fill="#2e4a80"/>
<text x="129.50" y="457.32" font-size="7.0" fill="#222" stroke="#222" stroke-width="0.14" textLength="22.5" lengthAdjust="spacingAndGlyphs">Med12</text>
<rect x="167.70" y="452.90" width="3.70" height="3.70" fill="#b0122c"/>
<text x="175.00" y="457.32" font-size="7.0" fill="#222" stroke="#222" stroke-width="0.14" textLength="11.0" lengthAdjust="spacingAndGlyphs">IgG</text>
<line x1="60.60" y1="461.40" x2="60.60" y2="566.90" stroke="#1e1e1e" stroke-width="1.4"/>
<line x1="60.00" y1="566.30" x2="265.80" y2="566.30" stroke="#1e1e1e" stroke-width="1.3"/>
<line x1="57.40" y1="566.30" x2="60.60" y2="566.30" stroke="#1e1e1e" stroke-width="1"/>
<text x="54.60" y="568.89" font-size="7.2" fill="#222" stroke="#222" stroke-width="0.14" text-anchor="end" textLength="14.4" lengthAdjust="spacingAndGlyphs">0.00</text>
<line x1="57.40" y1="545.85" x2="60.60" y2="545.85" stroke="#1e1e1e" stroke-width="1"/>
<text x="54.60" y="548.44" font-size="7.2" fill="#222" stroke="#222" stroke-width="0.14" text-anchor="end" textLength="14.4" lengthAdjust="spacingAndGlyphs">0.02</text>
<line x1="57.40" y1="525.40" x2="60.60" y2="525.40" stroke="#1e1e1e" stroke-width="1"/>
<text x="54.60" y="527.99" font-size="7.2" fill="#222" stroke="#222" stroke-width="0.14" text-anchor="end" textLength="14.4" lengthAdjust="spacingAndGlyphs">0.04</text>
<line x1="57.40" y1="504.95" x2="60.60" y2="504.95" stroke="#1e1e1e" stroke-width="1"/>
<text x="54.60" y="507.54" font-size="7.2" fill="#222" stroke="#222" stroke-width="0.14" text-anchor="end" textLength="14.4" lengthAdjust="spacingAndGlyphs">0.06</text>
<line x1="57.40" y1="484.50" x2="60.60" y2="484.50" stroke="#1e1e1e" stroke-width="1"/>
<text x="54.60" y="487.09" font-size="7.2" fill="#222" stroke="#222" stroke-width="0.14" text-anchor="end" textLength="14.4" lengthAdjust="spacingAndGlyphs">0.08</text>
<line x1="57.40" y1="464.05" x2="60.60" y2="464.05" stroke="#1e1e1e" stroke-width="1"/>
<text x="54.60" y="466.64" font-size="7.2" fill="#222" stroke="#222" stroke-width="0.14" text-anchor="end" textLength="14.4" lengthAdjust="spacingAndGlyphs">0.10</text>
<text transform="translate(33.80,513.50) rotate(-90)" font-size="9.6" fill="#222" stroke="#222" stroke-width="0.14" text-anchor="middle" textLength="46.9" lengthAdjust="spacingAndGlyphs">Enrichment</text>
<line x1="75.75" y1="546.30" x2="75.75" y2="550.75" stroke="#333" stroke-width="1.1"/>
<line x1="73.25" y1="546.30" x2="78.25" y2="546.30" stroke="#333" stroke-width="1.2"/>
<rect x="71.00" y="550.75" width="9.50" height="15.55" fill="#2e4a80"/>
<rect x="71.40" y="551.15" width="8.70" height="15.15" fill="none" stroke="#223d70" stroke-width="0.8"/>
<line x1="86.85" y1="563.70" x2="86.85" y2="564.75" stroke="#333" stroke-width="1.1"/>
<line x1="84.35" y1="563.70" x2="89.35" y2="563.70" stroke="#333" stroke-width="1.2"/>
<rect x="82.10" y="564.75" width="9.50" height="1.55" fill="#b0122c"/>
<line x1="116.95" y1="552.70" x2="116.95" y2="555.00" stroke="#333" stroke-width="1.1"/>
<line x1="114.45" y1="552.70" x2="119.45" y2="552.70" stroke="#333" stroke-width="1.2"/>
<rect x="112.20" y="555.00" width="9.50" height="11.30" fill="#2e4a80"/>
<rect x="112.60" y="555.40" width="8.70" height="10.90" fill="none" stroke="#223d70" stroke-width="0.8"/>
<line x1="128.05" y1="562.60" x2="128.05" y2="564.50" stroke="#333" stroke-width="1.1"/>
<line x1="125.55" y1="562.60" x2="130.55" y2="562.60" stroke="#333" stroke-width="1.2"/>
<rect x="123.30" y="564.50" width="9.50" height="1.80" fill="#b0122c"/>
<line x1="158.15" y1="466.50" x2="158.15" y2="481.30" stroke="#333" stroke-width="1.1"/>
<line x1="155.65" y1="466.50" x2="160.65" y2="466.50" stroke="#333" stroke-width="1.2"/>
<rect x="153.40" y="481.30" width="9.50" height="85.00" fill="#2e4a80"/>
<rect x="153.80" y="481.70" width="8.70" height="84.60" fill="none" stroke="#223d70" stroke-width="0.8"/>
<line x1="169.25" y1="551.40" x2="169.25" y2="552.50" stroke="#333" stroke-width="1.1"/>
<line x1="166.75" y1="551.40" x2="171.75" y2="551.40" stroke="#333" stroke-width="1.2"/>
<rect x="164.50" y="552.50" width="9.50" height="13.80" fill="#b0122c"/>
<line x1="198.95" y1="544.50" x2="198.95" y2="548.40" stroke="#333" stroke-width="1.1"/>
<line x1="196.45" y1="544.50" x2="201.45" y2="544.50" stroke="#333" stroke-width="1.2"/>
<rect x="194.20" y="548.40" width="9.50" height="17.90" fill="#2e4a80"/>
<rect x="194.60" y="548.80" width="8.70" height="17.50" fill="none" stroke="#223d70" stroke-width="0.8"/>
<line x1="210.05" y1="560.50" x2="210.05" y2="562.10" stroke="#333" stroke-width="1.1"/>
<line x1="207.55" y1="560.50" x2="212.55" y2="560.50" stroke="#333" stroke-width="1.2"/>
<rect x="205.30" y="562.10" width="9.50" height="4.20" fill="#b0122c"/>
<line x1="239.80" y1="563.30" x2="239.80" y2="563.90" stroke="#333" stroke-width="1.1"/>
<line x1="237.30" y1="563.30" x2="242.30" y2="563.30" stroke="#333" stroke-width="1.2"/>
<rect x="235.00" y="563.90" width="9.60" height="2.40" fill="#2e4a80"/>
<line x1="251.15" y1="564.00" x2="251.15" y2="564.60" stroke="#333" stroke-width="1.1"/>
<line x1="248.65" y1="564.00" x2="253.65" y2="564.00" stroke="#333" stroke-width="1.2"/>
<rect x="246.30" y="564.60" width="9.70" height="1.70" fill="#b0122c"/>
<text x="81.50" y="576.09" font-size="7.2" fill="#222" stroke="#222" stroke-width="0.14" text-anchor="middle" textLength="13.3" lengthAdjust="spacingAndGlyphs">HS2</text>
<text x="122.50" y="576.09" font-size="7.2" fill="#222" stroke="#222" stroke-width="0.14" text-anchor="middle" textLength="15.1" lengthAdjust="spacingAndGlyphs">γTSS</text>
<text x="163.00" y="576.09" font-size="7.2" fill="#222" stroke="#222" stroke-width="0.14" text-anchor="middle">B</text>
<text x="204.00" y="576.09" font-size="7.2" fill="#222" stroke="#222" stroke-width="0.14" text-anchor="middle">D</text>
<text x="245.50" y="576.09" font-size="7.2" fill="#222" stroke="#222" stroke-width="0.14" text-anchor="middle" textLength="23.9" lengthAdjust="spacingAndGlyphs">Necdin</text>
<line x1="151.40" y1="583.70" x2="217.40" y2="583.70" stroke="#222" stroke-width="1"/>
<text x="184.20" y="595.02" font-size="7.0" fill="#222" stroke="#222" stroke-width="0.14" text-anchor="middle" textLength="21.1" lengthAdjust="spacingAndGlyphs">BGLT3</text>
<text x="261.90" y="434.20" font-size="11" fill="#111" stroke="#111" stroke-width="0.14" textLength="5.3" lengthAdjust="spacingAndGlyphs">E</text>
<ellipse cx="396" cy="447" rx="51" ry="15" transform="rotate(-21 396 447)" fill="#f8e8c2"/>
<line x1="290.70" y1="457.60" x2="505.60" y2="457.40" stroke="#78a9d8" stroke-width="1.3"/>
<path d="M341,449 C370,430 420,426 460,434 C475,437 485,443 488.5,450.6" fill="none" stroke="#1a1a1a" stroke-width="1.3"/>
<path d="M490,464 C480,474 440,480 400,478.5 C370,477 345,470 337.5,460" fill="none" stroke="#1a1a1a" stroke-width="1.3"/>
<path d="M338.5,461 C346,473 366,475 372,461.6" fill="none" stroke="#1a1a1a" stroke-width="1.0"/>
<path d="M338,461.5 C350,477 398,477 406.5,461.4" fill="none" stroke="#1a1a1a" stroke-width="1.0"/>
<path d="M338,460 C348,474 380,479 420,478" fill="none" stroke="#1a1a1a" stroke-width="1.0"/>
<path d="M389,441.5 C410,432 445,431 474,440" fill="none" stroke="#1a1a1a" stroke-width="1.0"/>
<path d="M428,437.5 C440,433 458,433 472,439" fill="none" stroke="#1a1a1a" stroke-width="1.0"/>
<path d="M340,457.5 C348,451 353,449.5 355,452 C358,458 358,470 363,476 C368,481 379,474 388,460.5" fill="none" stroke="#6d3d8e" stroke-width="1.1"/>
<path d="M341,463.5 C348,459 354,456 357,456.5 C361,458 362,472 367,477 C374,483 383,477 389.5,471" fill="none" stroke="#6d3d8e" stroke-width="1.1"/>
<rect x="363.00" y="454.30" width="15.20" height="7.20" fill="#e6c3bb"/>
<rect x="399.80" y="454.10" width="15.50" height="7.20" fill="#e6c3bb"/>
<text x="370.60" y="459.20" font-size="5.0" fill="#666" text-anchor="middle">Aγ</text>
<text x="407.50" y="459.00" font-size="5.0" fill="#666" text-anchor="middle">Gγ</text>
<path transform="translate(375.30,448.90) rotate(-8) scale(1.0,0.78)" d="M-6.8,-1.5 C-7,-4 -3,-6.3 1.2,-6.3 C4.5,-6.5 6.5,-4.5 5.7,-2 C5,0.5 1.5,5.5 -1.5,6.5 C-4,7.2 -4.7,3.5 -4.7,1.5 C-6,1.5 -6.7,0.3 -6.8,-1.5 Z" fill="#2c4b86" stroke="#1f3a73" stroke-width="0.6"/>
<path transform="translate(386.20,444.00) rotate(-8) scale(1.0,0.85)" d="M-6.8,-1.5 C-7,-4 -3,-6.3 1.2,-6.3 C4.5,-6.5 6.5,-4.5 5.7,-2 C5,0.5 1.5,5.5 -1.5,6.5 C-4,7.2 -4.7,3.5 -4.7,1.5 C-6,1.5 -6.7,0.3 -6.8,-1.5 Z" fill="#2c4b86" stroke="#1f3a73" stroke-width="0.6"/>
<path transform="translate(412.90,448.40) rotate(-8) scale(1.0,0.8)" d="M-6.8,-1.5 C-7,-4 -3,-6.3 1.2,-6.3 C4.5,-6.5 6.5,-4.5 5.7,-2 C5,0.5 1.5,5.5 -1.5,6.5 C-4,7.2 -4.7,3.5 -4.7,1.5 C-6,1.5 -6.7,0.3 -6.8,-1.5 Z" fill="#2c4b86" stroke="#1f3a73" stroke-width="0.6"/>
<path transform="translate(425.50,443.00) rotate(-8) scale(1.0,0.9)" d="M-6.8,-1.5 C-7,-4 -3,-6.3 1.2,-6.3 C4.5,-6.5 6.5,-4.5 5.7,-2 C5,0.5 1.5,5.5 -1.5,6.5 C-4,7.2 -4.7,3.5 -4.7,1.5 C-6,1.5 -6.7,0.3 -6.8,-1.5 Z" fill="#2c4b86" stroke="#1f3a73" stroke-width="0.6"/>
<path d="M377.7,444.5 C380,437 383,434 387,431 C393,427 398,424 401,420 C404,416 405,413 405.2,411.3" fill="none" stroke="#e0592a" stroke-width="1.1"/>
<path d="M385,441.5 C387,437 389,434.5 392.5,433 C398,430.5 405,429 409,425 C413,421 414.5,417 414.7,413.5" fill="none" stroke="#e0592a" stroke-width="1.1"/>
<path d="M413.6,445.5 C414.5,441 415.5,438 418,436.5 C424,432 431,431 436,427 C441,423 443,418 443.2,413.5" fill="none" stroke="#e0592a" stroke-width="1.1"/>
<path d="M422,439.5 C424,436 426,434.2 429.5,433.5 C437,432 448,433 454,429 C459,426 462,421 463.3,417.7" fill="none" stroke="#e0592a" stroke-width="1.1"/>
<line x1="449.80" y1="463.50" x2="458.50" y2="451.30" stroke="#1a1a1a" stroke-width="1.3"/>
<line x1="459.40" y1="463.50" x2="467.70" y2="451.30" stroke="#1a1a1a" stroke-width="1.3"/>
<g transform="translate(306.3,456.5) rotate(-45)"><rect x="-15.2" y="-6.5" width="30.4" height="13" fill="#c8bcd9"/><text x="0" y="2.6" font-size="7.8" text-anchor="middle" fill="#2a2a2a" textLength="24.5" lengthAdjust="spacingAndGlyphs">HBBP1</text></g>
<g transform="translate(328.9,458.8) rotate(-45)"><rect x="-15.2" y="-7" width="30.4" height="14" fill="#d5e4c3"/><text x="0" y="2.6" font-size="7.8" text-anchor="middle" fill="#2a2a2a" textLength="24.5" lengthAdjust="spacingAndGlyphs">BGLT3</text></g>
<rect x="476.70" y="450.80" width="26.40" height="12.70" fill="#d6e3c3"/>
<text x="489.90" y="459.96" font-size="7.4" fill="#333" stroke="#333" stroke-width="0.14" text-anchor="middle" textLength="14.5" lengthAdjust="spacingAndGlyphs">LCR</text>
<text x="303.10" y="502.39" font-size="7.2" fill="#222" stroke="#222" stroke-width="0.14" textLength="23.8" lengthAdjust="spacingAndGlyphs">-BGLT3</text>
<path d="M343.8,486.9 C336.5,487 330.3,492.5 330.3,499 C330.3,503.3 333.5,506.3 338.4,507.9 L338.4,511.9 L344.2,508.9 L339.2,504.4 L339.2,505.3 C335.2,504.0 332.9,501.6 332.9,498.8 C332.9,494.2 337.5,490.7 343.8,490.7 Z" fill="#a5232f" stroke="none" stroke-width="1"/>
<ellipse cx="403" cy="522.6" rx="40.5" ry="9.6" transform="rotate(-20 403 522.6)" fill="#f8e8c2"/>
<line x1="290.50" y1="535.80" x2="505.00" y2="535.60" stroke="#78a9d8" stroke-width="1.3"/>
<path d="M335.5,539 C342,553 366,553 374.5,540" fill="none" stroke="#b4b4b4" stroke-width="1.0" stroke-dasharray="3,2"/>
<path d="M335.5,539 C345,560 395,560 406,540" fill="none" stroke="#b4b4b4" stroke-width="1.0" stroke-dasharray="3,2"/>
<path d="M335.5,539 C350,570 470,565 491,541" fill="none" stroke="#b4b4b4" stroke-width="1.0" stroke-dasharray="3,2"/>
<path d="M336.5,530 C340,522 352,516 365,514 C385,511 420,510 445,512 C465,514 482,519 487.5,527.5" fill="none" stroke="#1a1a1a" stroke-width="1.3"/>
<path d="M382,522 C390,517 400,515 408,514.2 C420,513 432,512.3 445,512.5" fill="none" stroke="#1a1a1a" stroke-width="1.0"/>
<path d="M418.9,523 C422,519 425,517 428.4,516.2 C434,514.5 440,513 447,512.8" fill="none" stroke="#1a1a1a" stroke-width="1.0"/>
<rect x="360.10" y="531.80" width="15.70" height="7.10" fill="#e6c3bb"/>
<rect x="397.30" y="531.50" width="15.90" height="7.30" fill="#e6c3bb"/>
<text x="368.00" y="536.80" font-size="5.0" fill="#666" text-anchor="middle">Aγ</text>
<text x="405.20" y="536.70" font-size="5.0" fill="#666" text-anchor="middle">Gγ</text>
<path transform="translate(375.90,526.30) rotate(-12) scale(1.0,0.88)" d="M-6.8,-1.5 C-7,-4 -3,-6.3 1.2,-6.3 C4.5,-6.5 6.5,-4.5 5.7,-2 C5,0.5 1.5,5.5 -1.5,6.5 C-4,7.2 -4.7,3.5 -4.7,1.5 C-6,1.5 -6.7,0.3 -6.8,-1.5 Z" fill="#2c4b86" stroke="#1f3a73" stroke-width="0.6"/>
<path transform="translate(412.50,526.60) rotate(-12) scale(1.08,0.85)" d="M-6.8,-1.5 C-7,-4 -3,-6.3 1.2,-6.3 C4.5,-6.5 6.5,-4.5 5.7,-2 C5,0.5 1.5,5.5 -1.5,6.5 C-4,7.2 -4.7,3.5 -4.7,1.5 C-6,1.5 -6.7,0.3 -6.8,-1.5 Z" fill="#2c4b86" stroke="#1f3a73" stroke-width="0.6"/>
<path d="M381.5,519 C384,515 387,512 391.4,511.2 C398,510.5 406,511.5 411.5,510.5 C416,509.5 419,505 421,499.5" fill="none" stroke="#e0592a" stroke-width="1.1"/>
<path d="M414.7,520.5 C416,517 418,514.5 421,513.2 C426,511.2 431,511.5 436,510.5 C442,509.5 446,507 447.5,503 C448.8,500 449.4,497.5 449.6,495.3" fill="none" stroke="#e0592a" stroke-width="1.1"/>
<path d="M335.8,530.6 L340.2,538.6 L331.8,538.6 Z" fill="#a8142b" stroke="none" stroke-width="1"/>
<g transform="translate(306,534.6) rotate(-45)"><rect x="-15.2" y="-6.5" width="30.4" height="13" fill="#c8bcd9"/><text x="0" y="2.6" font-size="7.8" text-anchor="middle" fill="#2a2a2a" textLength="24.5" lengthAdjust="spacingAndGlyphs">HBBP1</text></g>
<line x1="450.50" y1="541.30" x2="458.30" y2="529.30" stroke="#1a1a1a" stroke-width="1.3"/>
<line x1="459.50" y1="541.30" x2="467.50" y2="529.30" stroke="#1a1a1a" stroke-width="1.3"/>
<rect x="477.00" y="528.30" width="26.30" height="12.50" fill="#d6e3c3"/>
<text x="490.10" y="537.26" font-size="7.4" fill="#333" stroke="#333" stroke-width="0.14" text-anchor="middle" textLength="14.5" lengthAdjust="spacingAndGlyphs">LCR</text>
<text x="321.40" y="581.48" font-size="6.6" fill="#222" stroke="#222" stroke-width="0.14" text-anchor="middle" textLength="33.0" lengthAdjust="spacingAndGlyphs">RNA Pol II</text>
<text x="371.80" y="581.48" font-size="6.6" fill="#222" stroke="#222" stroke-width="0.14" text-anchor="middle" textLength="31.0" lengthAdjust="spacingAndGlyphs">Mediator</text>
<text x="422.70" y="581.48" font-size="6.6" fill="#222" stroke="#222" stroke-width="0.14" text-anchor="middle" textLength="37.8" lengthAdjust="spacingAndGlyphs">BGLT3 RNA</text>
<text x="473.50" y="581.48" font-size="6.6" fill="#222" stroke="#222" stroke-width="0.14" text-anchor="middle" textLength="44.2" lengthAdjust="spacingAndGlyphs">γ-globin RNA</text>
<path transform="translate(321.00,591.50) rotate(0) scale(1.0,1.0)" d="M-6.8,-1.5 C-7,-4 -3,-6.3 1.2,-6.3 C4.5,-6.5 6.5,-4.5 5.7,-2 C5,0.5 1.5,5.5 -1.5,6.5 C-4,7.2 -4.7,3.5 -4.7,1.5 C-6,1.5 -6.7,0.3 -6.8,-1.5 Z" fill="#2c4b86" stroke="#1f3a73" stroke-width="0.6"/>
<ellipse cx="369.5" cy="592.7" rx="14" ry="5.8" transform="rotate(-15 369.5 592.7)" fill="#f8e8c2"/>
<path d="M407.4,593.7 C411,590 414,591 417,589.5 C420,588 422,587 423.3,585.2" fill="none" stroke="#6d3d8e" stroke-width="1.1"/>
<path d="M462,595 C464,591 468,590.5 472,589.5 C475,588.5 476.5,587 477.2,584.4" fill="none" stroke="#e0592a" stroke-width="1.1"/>
<rect x="0.00" y="0.00" width="520.00" height="1.00" fill="#000"/>
<rect x="0.00" y="0.00" width="1.10" height="608.00" fill="#000"/>
<rect x="518.90" y="0.00" width="1.10" height="608.00" fill="#000"/>
<rect x="0.00" y="606.80" width="520.00" height="1.20" fill="#000"/>
</svg>
</body></html>
